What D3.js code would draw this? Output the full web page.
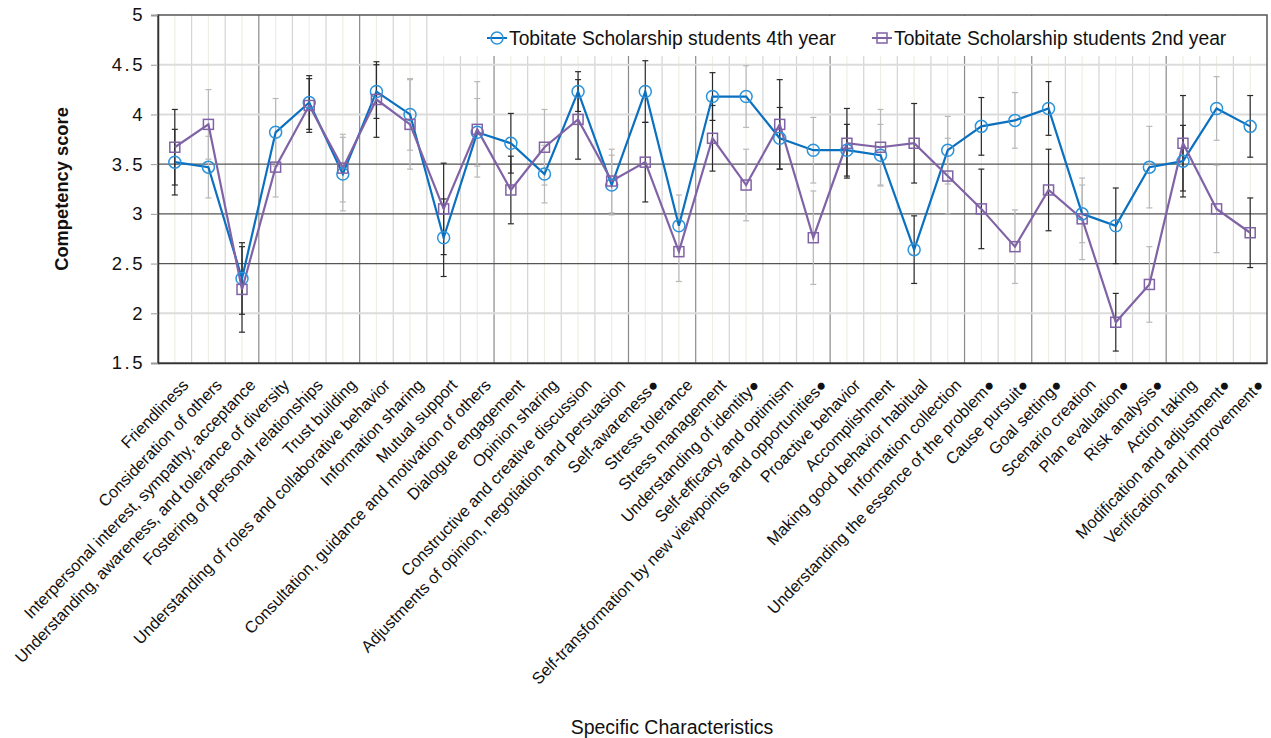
<!DOCTYPE html>
<html>
<head>
<meta charset="utf-8">
<script src="https://cdn.jsdelivr.net/npm/d3@7"></script>
<style>
  body { margin: 0; background: #fff; }
  svg { font-family: "Liberation Sans", Arial, sans-serif; }
</style>
</head>
<body>
<div id="chart"></div>
<script>
// categories along the x axis (● marks items flagged in the source)
const categories = [
  "Friendliness", "Consideration of others", "Interpersonal interest, sympathy, acceptance",
  "Understanding, awareness, and tolerance of diversity", "Fostering of personal relationships",
  "Trust building", "Understanding of roles and collaborative behavior", "Information sharing",
  "Mutual support", "Consultation, guidance and motivation of others", "Dialogue engagement",
  "Opinion sharing", "Constructive and creative discussion",
  "Adjustments of opinion, negotiation and persuasion", "Self-awareness●", "Stress tolerance",
  "Stress management", "Understanding of identity●", "Self-efficacy and optimism",
  "Self-transformation by new viewpoints and opportunities●", "Proactive behavior",
  "Accomplishment", "Making good behavior habitual", "Information collection",
  "Understanding the essence of the problem●", "Cause pursuit●", "Goal setting●",
  "Scenario creation", "Plan evaluation●", "Risk analysis●", "Action taking",
  "Modification and adjustment●", "Verification and improvement●"
];

const seriesNames = ["Tobitate Scholarship students 4th year", "Tobitate Scholarship students 2nd year"];

const fourthYear = [3.52, 3.47, 2.35, 3.82, 4.12, 3.40, 4.23, 4.00, 2.76, 3.82, 3.71, 3.40, 4.23,
  3.29, 4.23, 2.88, 4.18, 4.18, 3.76, 3.64, 3.64, 3.59, 2.64, 3.64, 3.88, 3.94, 4.06, 3.00,
  2.88, 3.47, 3.53, 4.06, 3.88];
const fourthYearErr = [0.33, 0.31, 0.36, 0.34, 0.27, 0.37, 0.27, 0.36, 0.39, 0.34, 0.30, 0.29, 0.20,
  0.30, 0.31, 0.31, 0.24, 0.31, 0.31, 0.33, 0.26, 0.31, 0.34, 0.34, 0.29, 0.28, 0.27, 0.29,
  0.38, 0.41, 0.36, 0.32, 0.31];

const secondYear = [3.67, 3.90, 2.24, 3.47, 4.09, 3.46, 4.15, 3.90, 3.05, 3.85, 3.24, 3.67, 3.95,
  3.33, 3.52, 2.62, 3.76, 3.29, 3.90, 2.76, 3.71, 3.67, 3.71, 3.38, 3.05, 2.67, 3.24, 2.95,
  1.91, 2.29, 3.71, 3.05, 2.81];
const secondYearErr = [0.38, 0.35, 0.43, 0.30, 0.27, 0.34, 0.38, 0.45, 0.46, 0.48, 0.34, 0.38, 0.40,
  0.32, 0.40, 0.30, 0.33, 0.36, 0.45, 0.47, 0.35, 0.38, 0.40, 0.38, 0.40, 0.37, 0.41, 0.41,
  0.29, 0.38, 0.48, 0.44, 0.35];

// category counts after which a competency group ends
const groupBreaks = [3, 6, 10, 14, 16, 20, 24, 26, 30];
const yTicks = [1.5, 2, 2.5, 3, 3.5, 4, 4.5, 5];

const width = 1271, height = 738;
const margin = {top: 15, right: 4, bottom: 375, left: 158};
const innerW = width - margin.left - margin.right;
const innerH = height - margin.top - margin.bottom;

const blue = "#0a70bf", blueMarker = "#2b93db";
const purple = "#8063a6";

const svg = d3.select("#chart").append("svg")
  .attr("width", width)
  .attr("height", height);

const g = svg.append("g").attr("transform", `translate(${margin.left},${margin.top})`);

const x = d3.scalePoint().domain(categories).range([0, innerW]).padding(0.5);
const y = d3.scaleLinear().domain([1.5, 5]).range([innerH, 0]);
const step = x.step();

// vertical grid: faint line at each category, grey at each boundary, darker at group ends
const grid = g.append("g");
grid.selectAll("line.center")
  .data(categories)
  .enter().append("line")
  .attr("x1", d => x(d)).attr("x2", d => x(d))
  .attr("y1", 0).attr("y2", innerH)
  .attr("stroke", "#efeee4").attr("stroke-width", 1.2);

grid.selectAll("line.bound")
  .data(d3.range(1, categories.length))
  .enter().append("line")
  .attr("x1", k => k * step).attr("x2", k => k * step)
  .attr("y1", 0).attr("y2", innerH)
  .attr("stroke", k => groupBreaks.includes(k) ? "#8a8a8a" : "#d4d4d4")
  .attr("stroke-width", 1.2);

grid.selectAll("line.h")
  .data(yTicks.filter(v => v > 1.5 && v < 5))
  .enter().append("line")
  .attr("x1", 0).attr("x2", innerW)
  .attr("y1", d => y(d)).attr("y2", d => y(d))
  .attr("stroke", d => (d >= 2.5 && d <= 3.5) ? "#555" : "#dcdcdc")
  .attr("stroke-width", d => (d >= 2.5 && d <= 3.5) ? 1.2 : 2);

// legend background hides the grid at the top
g.append("rect")
  .attr("x", 282).attr("y", 1)
  .attr("width", innerW - 284).attr("height", 40)
  .attr("fill", "#fff");

// frame
g.append("rect")
  .attr("width", innerW).attr("height", innerH)
  .attr("fill", "none").attr("stroke", "#555").attr("stroke-width", 1.5);

// axes
const yAxis = g.append("g")
  .call(d3.axisLeft(y).tickValues(yTicks).tickSize(7).tickPadding(6).tickFormat(d3.format("")));
yAxis.select(".domain").attr("stroke", "#333").attr("stroke-width", 1.5);
yAxis.selectAll(".tick line").attr("stroke", "#999");
yAxis.selectAll("text").attr("font-size", 18.5).attr("letter-spacing", "2.5px").attr("fill", "#111");

const xAxis = g.append("g")
  .attr("transform", `translate(0,${innerH})`)
  .call(d3.axisBottom(x).tickSize(0));
xAxis.select(".domain").attr("stroke", "#333").attr("stroke-width", 1.5);
xAxis.selectAll("text")
  .attr("font-size", 16.4)
  .attr("fill", "#111")
  .attr("text-anchor", "end")
  .attr("x", 0).attr("y", 0).attr("dy", "0.35em")
  .attr("transform", "translate(10,19) rotate(-46)");

// error bars (shade alternates by category)
const series = [
  {vals: fourthYear, err: fourthYearErr},
  {vals: secondYear, err: secondYearErr}
];
const errG = g.append("g");
series.forEach(s => {
  const rows = categories.map((c, i) => ({c, i, v: s.vals[i], e: s.err[i]}));
  const eb = errG.selectAll(null).data(rows).enter().append("g")
    .attr("stroke", d => d.i % 2 === 0 ? "#2a2a2a" : "#b8b8b8")
    .attr("stroke-width", 1.2);
  eb.append("line")
    .attr("x1", d => x(d.c)).attr("x2", d => x(d.c))
    .attr("y1", d => y(d.v - d.e)).attr("y2", d => y(d.v + d.e));
  eb.append("line")
    .attr("x1", d => x(d.c) - 3).attr("x2", d => x(d.c) + 3)
    .attr("y1", d => y(d.v - d.e)).attr("y2", d => y(d.v - d.e));
  eb.append("line")
    .attr("x1", d => x(d.c) - 3).attr("x2", d => x(d.c) + 3)
    .attr("y1", d => y(d.v + d.e)).attr("y2", d => y(d.v + d.e));
});

// lines and markers
const line = d3.line().x((d, i) => x(categories[i])).y(d => y(d));

g.append("path").datum(fourthYear)
  .attr("fill", "none").attr("stroke", blue).attr("stroke-width", 2.2).attr("d", line);
g.append("path").datum(secondYear)
  .attr("fill", "none").attr("stroke", purple).attr("stroke-width", 2.2).attr("d", line);

g.selectAll("circle.m")
  .data(fourthYear)
  .enter().append("circle")
  .attr("cx", (d, i) => x(categories[i])).attr("cy", d => y(d))
  .attr("r", 6)
  .attr("fill", "none").attr("stroke", blueMarker).attr("stroke-width", 1.5);

g.selectAll("rect.m")
  .data(secondYear)
  .enter().append("rect")
  .attr("x", (d, i) => x(categories[i]) - 5).attr("y", d => y(d) - 5)
  .attr("width", 10).attr("height", 10)
  .attr("fill", "none").attr("stroke", purple).attr("stroke-width", 1.5);

// legend
const legend = g.append("g").attr("transform", "translate(329,23)");
const legendItems = legend.selectAll("g")
  .data(seriesNames)
  .enter().append("g")
  .attr("transform", (d, i) => `translate(${i * 385},0)`);
legendItems.append("line")
  .attr("x1", 0).attr("x2", 20)
  .attr("stroke", (d, i) => i === 0 ? blue : purple).attr("stroke-width", 2);
legendItems.each(function(d, i) {
  const it = d3.select(this);
  if (i === 0) {
    it.append("circle").attr("cx", 10).attr("r", 6)
      .attr("fill", "none").attr("stroke", blueMarker).attr("stroke-width", 1.5);
  } else {
    it.append("rect").attr("x", 5).attr("y", -5).attr("width", 10).attr("height", 10)
      .attr("fill", "none").attr("stroke", purple).attr("stroke-width", 1.5);
  }
});
legendItems.append("text")
  .attr("x", 22).attr("dy", "0.35em")
  .attr("font-size", 19.3).attr("fill", "#111")
  .text(d => d);

// axis titles
svg.append("text")
  .attr("transform", `translate(68,${margin.top + 174}) rotate(-90)`)
  .attr("text-anchor", "middle")
  .attr("font-size", 18.3).attr("font-weight", "bold").attr("fill", "#111")
  .text("Competency score");

svg.append("text")
  .attr("x", 672).attr("y", 734)
  .attr("text-anchor", "middle")
  .attr("font-size", 19.5).attr("fill", "#111")
  .text("Specific Characteristics");
</script>
</body>
</html>
